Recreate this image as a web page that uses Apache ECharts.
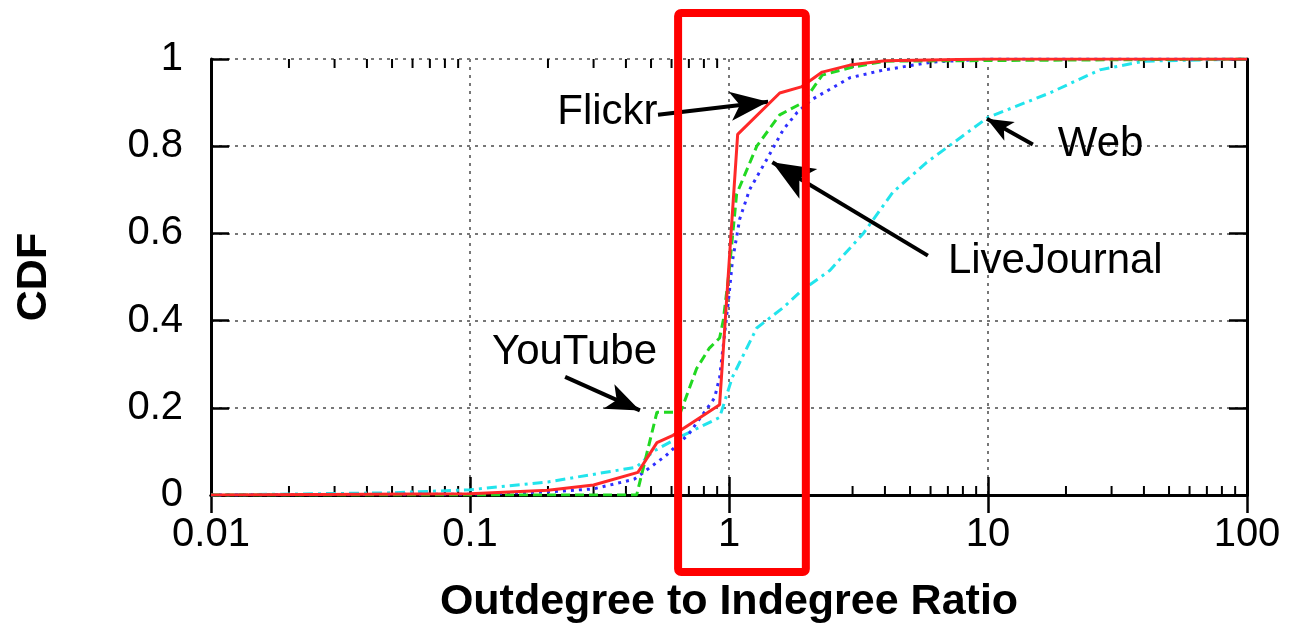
<!DOCTYPE html>
<html>
<head>
<meta charset="utf-8">
<title>Outdegree to Indegree Ratio CDF</title>
<script src="https://cdn.jsdelivr.net/npm/echarts@6/dist/echarts.min.js"></script>
<style>
  html, body { margin: 0; padding: 0; background: #fff; }
  #chart { width: 1293px; height: 629px; }
</style>
</head>
<body>
<div id="chart"></div>
<script>
// axis ticks
const xTicks = [0.01, 0.1, 1, 10, 100];
const xTickLabels = ['0.01', '0.1', '1', '10', '100'];
const yTicks = [0, 0.2, 0.4, 0.6, 0.8, 1];
const yTickLabels = ['0', '0.2', '0.4', '0.6', '0.8', '1'];
const decades = [0.01, 0.1, 1, 10];
const minorSteps = [2, 3, 4, 5, 6, 7, 8, 9];

// Flickr
const flickrX = [0.01, 0.1, 0.2, 0.3, 0.445, 0.527, 0.608, 0.92, 1.08, 1.57, 1.9, 2.29, 2.93, 4, 10, 100];
const flickrY = [0, 0.003, 0.011, 0.023, 0.052, 0.12, 0.137, 0.207, 0.827, 0.922, 0.936, 0.97, 0.986, 0.996, 1, 1];
// YouTube
const youtubeX = [0.01, 0.44, 0.527, 0.65, 0.75, 0.84, 0.92, 0.95, 1.0, 1.07, 1.28, 1.57, 1.93, 2.29, 2.93, 4, 100];
const youtubeY = [0, 0, 0.19, 0.19, 0.29, 0.337, 0.36, 0.40, 0.51, 0.69, 0.80, 0.872, 0.90, 0.963, 0.98, 0.995, 1];
// LiveJournal
const ljX = [0.01, 0.1, 0.2, 0.3, 0.43, 0.57, 0.70, 0.88, 0.92, 1.0, 1.03, 1.10, 1.20, 1.40, 1.62, 1.83, 2.09, 2.93, 3.97, 6.1, 10, 100];
const ljY = [0, 0.002, 0.007, 0.014, 0.036, 0.09, 0.14, 0.223, 0.27, 0.458, 0.535, 0.633, 0.70, 0.77, 0.838, 0.877, 0.907, 0.957, 0.975, 0.993, 1, 1];
// Web
const webX = [0.01, 0.05, 0.1, 0.2, 0.44, 0.51, 0.63, 0.71, 0.92, 1.03, 1.28, 1.62, 1.89, 2.45, 3.3, 4.3, 5.8, 10, 17.3, 27, 40, 100];
const webY = [0, 0.005, 0.012, 0.03, 0.064, 0.10, 0.13, 0.145, 0.178, 0.27, 0.383, 0.43, 0.467, 0.515, 0.60, 0.695, 0.763, 0.866, 0.922, 0.975, 0.995, 1];

// annotations (data coordinates)
const noteNames = ['Flickr', 'LiveJournal', 'YouTube', 'Web'];
const notePos = [[0.53, 0.877], [7.0, 0.535], [0.1216, 0.326], [18.6, 0.804]];
const noteSide = ['left', 'right', 'right', 'right'];
const arrowFrom = [[0.532, 0.872], [5.86, 0.549], [0.233, 0.271], [14.9, 0.804]];
const arrowTo = [[1.416, 0.902], [1.47, 0.763], [0.453, 0.194], [9.9, 0.863]];
const arrowHead = [[22, 38], [26, 42], [20, 34], [16, 26]];

// red highlight box (x in data, y in pixels)
const highlightX = [0.636, 1.98];

const font = '"Liberation Sans", Arial, sans-serif';

function pairs(xs, ys) {
  return xs.map((x, i) => [x, ys[i]]);
}
function xLabel(v) {
  for (let i = 0; i < xTicks.length; i++) {
    if (Math.abs(Math.log10(v) - Math.log10(xTicks[i])) < 1e-6) return xTickLabels[i];
  }
  return '';
}
function yLabel(v) {
  for (let i = 0; i < yTicks.length; i++) {
    if (Math.abs(v - yTicks[i]) < 1e-6) return yTickLabels[i];
  }
  return '';
}

const minorTicks = [];
decades.forEach(d => minorSteps.forEach(m => minorTicks.push([d * m, 0])));

const gridLine = { show: true, lineStyle: { color: '#777', width: 2, type: [3, 5] } };
const border = { show: true, lineStyle: { color: '#000', width: 3 } };
const majorTick = { show: true, inside: true, length: 18, lineStyle: { color: '#000', width: 2.5 } };

const chart = echarts.init(document.getElementById('chart'));

const option = {
  backgroundColor: '#fff',
  animation: false,
  grid: { left: 211, right: 46, top: 59, bottom: 131 },
  xAxis: [
    {
      type: 'log', logBase: 10, min: 0.01, max: 100,
      position: 'bottom',
      name: 'Outdegree to Indegree Ratio',
      nameLocation: 'middle',
      nameGap: 86,
      nameTextStyle: { fontFamily: font, fontSize: 43, fontWeight: 'bold', color: '#000' },
      axisLine: border,
      axisTick: majorTick,
      axisLabel: { fontFamily: font, fontSize: 40, color: '#000', margin: 20, formatter: xLabel },
      splitLine: gridLine
    },
    {
      type: 'log', logBase: 10, min: 0.01, max: 100,
      position: 'top',
      axisLine: border,
      axisTick: majorTick,
      axisLabel: { show: false },
      splitLine: { show: false }
    }
  ],
  yAxis: [
    {
      type: 'value', min: 0, max: 1, interval: 0.2,
      position: 'left',
      name: 'CDF',
      nameLocation: 'middle',
      nameGap: 155,
      nameTextStyle: { fontFamily: font, fontSize: 43, fontWeight: 'bold', color: '#000' },
      axisLine: border,
      axisTick: majorTick,
      axisLabel: { fontFamily: font, fontSize: 40, color: '#000', margin: 28, formatter: yLabel },
      splitLine: gridLine
    },
    {
      type: 'value', min: 0, max: 1, interval: 0.2,
      position: 'right',
      axisLine: border,
      axisTick: majorTick,
      axisLabel: { show: false },
      splitLine: { show: false }
    }
  ],
  series: [
    {
      name: 'minor ticks',
      type: 'custom',
      silent: true,
      data: minorTicks,
      renderItem: function (params, api) {
        const v = api.value(0);
        const b = api.coord([v, 0]);
        const t = api.coord([v, 1]);
        const st = { stroke: '#000', lineWidth: 2 };
        return {
          type: 'group',
          children: [
            { type: 'line', shape: { x1: b[0], y1: b[1], x2: b[0], y2: b[1] - 9 }, style: st },
            { type: 'line', shape: { x1: t[0], y1: t[1], x2: t[0], y2: t[1] + 9 }, style: st }
          ]
        };
      },
      z: 3
    },
    {
      name: 'Web', type: 'line', data: pairs(webX, webY),
      showSymbol: false, symbol: 'none',
      lineStyle: { color: '#22e4ec', width: 3, type: [10, 5, 3, 5] }, z: 4
    },
    {
      name: 'LiveJournal', type: 'line', data: pairs(ljX, ljY),
      showSymbol: false, symbol: 'none',
      lineStyle: { color: '#2f2fff', width: 3, type: [3, 5] }, z: 5
    },
    {
      name: 'YouTube', type: 'line', data: pairs(youtubeX, youtubeY),
      showSymbol: false, symbol: 'none',
      lineStyle: { color: '#22d822', width: 3, type: [9, 5] }, z: 6
    },
    {
      name: 'Flickr', type: 'line', data: pairs(flickrX, flickrY),
      showSymbol: false, symbol: 'none',
      lineStyle: { color: '#ff2828', width: 3, type: 'solid' }, z: 7
    },
    {
      name: 'notes',
      type: 'scatter',
      silent: true,
      symbolSize: 0,
      itemStyle: { opacity: 1 },
      data: notePos.map((p, i) => ({
        value: p,
        name: noteNames[i],
        label: {
          show: true,
          position: noteSide[i],
          distance: 0,
          formatter: noteNames[i],
          fontFamily: font,
          fontSize: 42,
          color: '#000',
          opacity: 1
        }
      })),
      markLine: {
        silent: true,
        symbol: ['none', 'arrow'],
        label: { show: false },
        lineStyle: { color: '#000', width: 4, type: 'solid', opacity: 1 },
        data: arrowFrom.map((p, i) => [
          { coord: p, symbol: 'none' },
          { coord: arrowTo[i], symbol: 'arrow', symbolSize: arrowHead[i] }
        ])
      },
      z: 8
    }
  ]
};

chart.setOption(option);

// red highlight frame, x edges taken from the axis scale
const xl = chart.convertToPixel({ xAxisIndex: 0 }, highlightX[0]);
const xr = chart.convertToPixel({ xAxisIndex: 0 }, highlightX[1]);
chart.setOption({
  graphic: [{
    type: 'rect',
    z: 100,
    silent: true,
    shape: { x: xl, y: 13, width: xr - xl, height: 559, r: 3 },
    style: { fill: null, stroke: '#ff0000', lineWidth: 8 }
  }]
});

window.onresize = function () {
  chart.resize();
};
</script>
</body>
</html>
